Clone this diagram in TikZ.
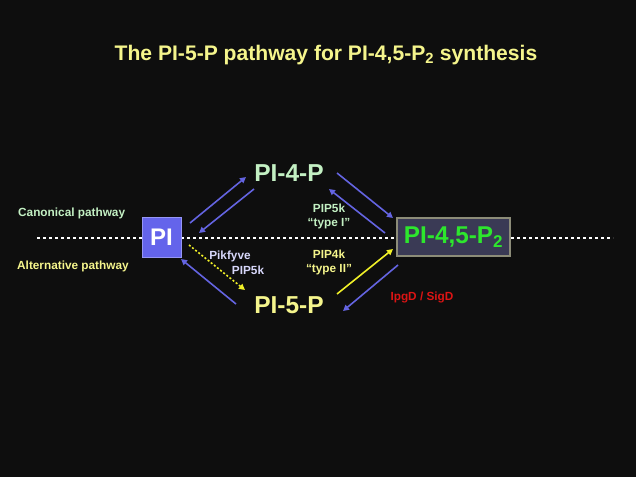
\documentclass[tikz,border=0pt]{standalone}
\usepackage{fontspec}
\setmainfont{Liberation Sans}
\usetikzlibrary{arrows.meta}
\definecolor{bg}{RGB}{14,14,14}
\definecolor{titleyel}{RGB}{245,245,140}
\definecolor{paleg}{RGB}{195,240,195}
\definecolor{pigreen}{RGB}{45,230,45}
\definecolor{pibox}{RGB}{100,100,235}
\definecolor{piboxedge}{RGB}{150,150,245}
\definecolor{arrblue}{RGB}{100,100,225}
\definecolor{darkbox}{RGB}{58,58,85}
\definecolor{darkedge}{RGB}{140,140,120}
\definecolor{lav}{RGB}{215,215,250}
\definecolor{ared}{RGB}{220,20,20}
\definecolor{ayel}{RGB}{240,240,40}
\begin{document}
\begin{tikzpicture}[x=1pt,y=-1pt,
  lbl/.style={font=\fontsize{11.8}{13}\selectfont\bfseries, inner sep=0pt, align=center},
  big/.style={font=\fontsize{24.5}{27}\selectfont\bfseries, inner sep=0pt},
  barr/.style={draw=arrblue, line width=1.6pt, -{Triangle[length=6pt,width=6pt]}},
  yarr/.style={draw=ayel, line width=1.6pt, -{Triangle[length=6pt,width=6pt]}}
]
\fill[bg] (0,0) rectangle (636,477);
\useasboundingbox (0,0) rectangle (636,477);

\node[font=\fontsize{21.1}{24}\selectfont\bfseries, text=titleyel, inner sep=0pt] (title) at (326,55) {The PI-5-P pathway for PI-4,5-P\textsubscript{2} synthesis};

\coordinate (dl) at (37,238);
\coordinate (dr) at (613,238);
\draw[white, line width=2.8pt, dash pattern=on 2.8pt off 3.2pt] (dl) -- (dr);

\node[lbl, text=paleg, anchor=west] (canon) at (18,213) {Canonical pathway};
\node[lbl, text=titleyel, anchor=west] (alt) at (17,266) {Alternative pathway};

\node[draw=piboxedge, fill=pibox, line width=1pt, minimum width=39pt, minimum height=40pt, inner sep=0pt, text=white, font=\fontsize{24}{26}\selectfont\bfseries] (pi) at (161.5,237) {PI};
\node[draw=darkedge, fill=darkbox, line width=1.2pt, minimum width=113pt, minimum height=38pt, inner sep=0pt, text=pigreen, font=\fontsize{24.3}{26}\selectfont\bfseries] (pip2) at (453.5,237) {PI-4,5-P\textsubscript{2}};

\node[big, text=paleg] (pi4) at (289,173) {PI-4-P};
\node[big, text=titleyel] (pi5) at (289,305) {PI-5-P};

% arrow end points
\coordinate (a1s) at (190,223); \coordinate (a1e) at (246,177);
\coordinate (a2s) at (254,189); \coordinate (a2e) at (199,233);
\coordinate (a3s) at (337,173); \coordinate (a3e) at (393,218);
\coordinate (a4s) at (385,233); \coordinate (a4e) at (329,189);
\coordinate (a5s) at (337,294); \coordinate (a5e) at (393,249);
\coordinate (a6s) at (398,265); \coordinate (a6e) at (343,311);
\coordinate (a7s) at (236,304); \coordinate (a7e) at (181,259);
\coordinate (a8s) at (189,245); \coordinate (a8e) at (245,290);

\draw[barr] (a1s) -- (a1e);
\draw[barr] (a2s) -- (a2e);
\draw[barr] (a3s) -- (a3e);
\draw[barr] (a4s) -- (a4e);
\draw[yarr] (a5s) -- (a5e);
\draw[barr] (a6s) -- (a6e);
\draw[barr] (a7s) -- (a7e);
\draw[ayel, line width=1.6pt, dash pattern=on 2pt off 2pt, -{Triangle[length=6pt,width=6pt]}] (a8s) -- (a8e);

\node[lbl, text=paleg] (pip5k1) at (329,216) {PIP5k\\[1pt]“type I”};
\node[lbl, text=titleyel] (pip4k) at (329,262) {PIP4k\\[1pt]“type II”};
\node[lbl, text=lav] (pik) at (230,256) {Pikfyve};
\node[lbl, text=lav] (pip5k2) at (248,270) {PIP5k};
\node[lbl, text=ared] (ipgd) at (422,297) {IpgD / SigD};
\end{tikzpicture}
\end{document}
